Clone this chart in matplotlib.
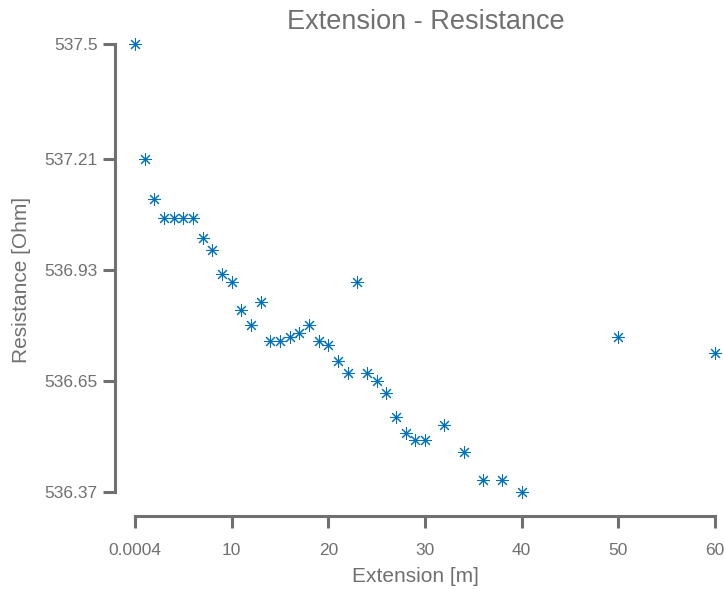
import matplotlib
matplotlib.use("Agg")
import matplotlib.pyplot as plt

extension = [0.0004, 1, 2, 3, 4, 5, 6, 7, 8, 9, 10, 11, 12, 13, 14, 15, 16, 17, 18, 19,
             20, 21, 22, 23, 24, 25, 26, 27, 28, 29, 30, 32, 34, 36, 38, 40, 50, 60]
resistance = [537.50, 537.21, 537.11, 537.06, 537.06, 537.06, 537.06, 537.01, 536.98, 536.92,
              536.90, 536.83, 536.79, 536.85, 536.75, 536.75, 536.76, 536.77, 536.79, 536.75,
              536.74, 536.70, 536.67, 536.90, 536.67, 536.65, 536.62, 536.56, 536.52, 536.50,
              536.50, 536.54, 536.47, 536.40, 536.40, 536.37, 536.76, 536.72]
x_ticks = [0.0004, 10, 20, 30, 40, 50, 60]
x_tick_labels = ["0.0004", "10", "20", "30", "40", "50", "60"]
y_ticks = [536.37, 536.65, 536.93, 537.21, 537.5]
y_tick_labels = ["536.37", "536.65", "536.93", "537.21", "537.5"]

gray = "#707070"
plt.rcParams["font.family"] = ["Liberation Sans", "DejaVu Sans"]

fig = plt.figure(figsize=(7.24, 5.89), dpi=100)
ax = fig.add_axes([135 / 724, 97 / 589, 580 / 724, 448 / 589])

ax.plot(extension, resistance, linestyle="none", marker=(8, 2, 0), markersize=9,
        markeredgewidth=0.75, color="#0072BD", clip_on=False)

ax.set_xlim(0, 60)
ax.set_ylim(536.37, 537.5)
ax.set_xticks(x_ticks)
ax.set_xticklabels(x_tick_labels)
ax.set_yticks(y_ticks)
ax.set_yticklabels(y_tick_labels)

for s in ["top", "right"]:
    ax.spines[s].set_visible(False)
ax.spines["left"].set_position(("outward", 14.4))
ax.spines["bottom"].set_position(("outward", 17.3))
for s in ["left", "bottom"]:
    ax.spines[s].set_linewidth(2.2)
    ax.spines[s].set_color(gray)
ax.spines["bottom"].set_bounds(0, 60)
ax.spines["left"].set_bounds(536.37, 537.5)

ax.tick_params(axis="both", direction="out", length=8.6, width=2.2, color=gray,
               labelcolor=gray, labelsize=12.5)
ax.tick_params(axis="x", pad=10.5)
ax.tick_params(axis="y", pad=4.0)

ax.set_xlabel("Extension [m]", color=gray, fontsize=15, va="center", ha="center")
ax.xaxis.set_label_coords((415 - 135) / 580, -(577 - 492) / 448)
ax.set_ylabel("Resistance [Ohm]", color=gray, fontsize=15, va="center", ha="center")
ax.yaxis.set_label_coords((22 - 135) / 580, (492 - 279.5) / 448)
ax.text(0.5017, 1 + 22 / 448, "Extension - Resistance", transform=ax.transAxes,
        color=gray, fontsize=19.5, ha="center", va="center")

fig.savefig("out.png", dpi=100)
